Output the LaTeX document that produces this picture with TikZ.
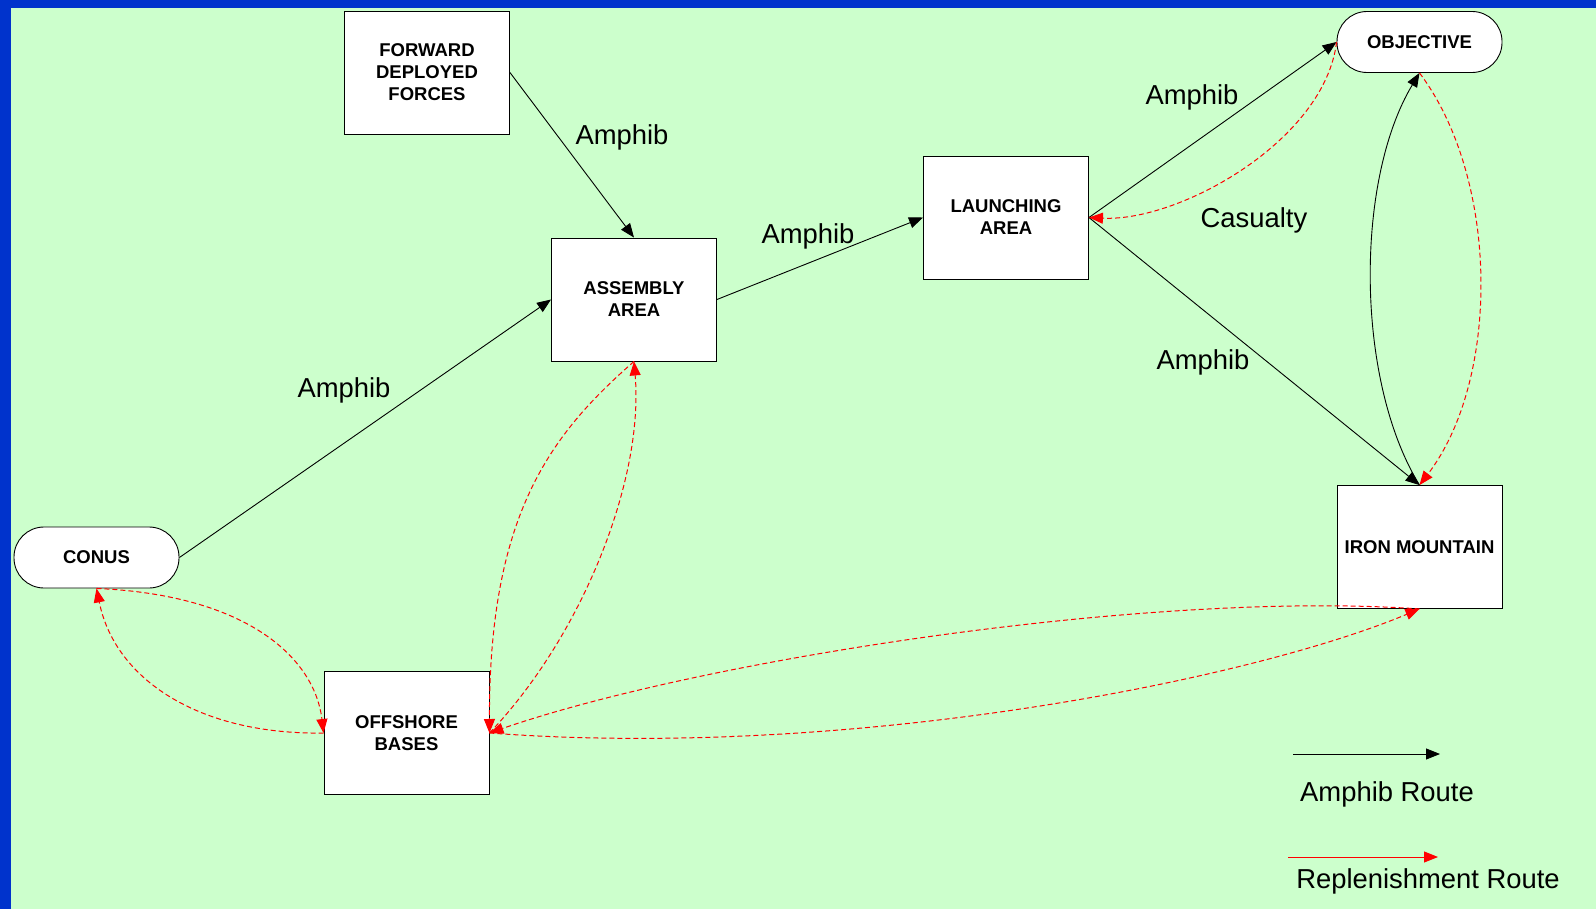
\documentclass[tikz,border=0pt]{standalone}
\usepackage{fontspec}
\setmainfont{Liberation Sans}
\usetikzlibrary{arrows.meta}
\definecolor{bgblue}{RGB}{0,51,204}
\definecolor{bggreen}{RGB}{204,255,204}
\begin{document}
\begin{tikzpicture}[x=1pt,y=-1pt,
  box/.style={draw=black, line width=0.9pt, fill=white, minimum width=165pt, minimum height=123pt, inner sep=0pt, align=center, font=\fontsize{18.5}{22}\selectfont\bfseries},
  pill/.style={box, minimum height=61pt, rounded corners=30pt},
  lbl/.style={anchor=base, inner sep=0pt, font=\fontsize{27.4}{32}\selectfont},
  amph/.style={draw=black, line width=0.9pt, -{Triangle[length=14pt,width=11pt]}},
  repl/.style={draw=red, line width=1pt, dash pattern=on 5pt off 3pt, -{Triangle[length=14pt,width=11pt]}},
  legr/.style={draw=red, line width=1pt, -{Triangle[length=14pt,width=11pt]}},
]
\useasboundingbox (0,0) rectangle (1596,909);
\fill[bgblue] (0,0) rectangle (1596,909);
\fill[bggreen] (11,8) rectangle (1596,909);

% nodes
\node[box] (fdf) at (427,72.5) {FORWARD\\DEPLOYED\\FORCES};
\node[box] (aa) at (634,299.5) {ASSEMBLY\\AREA};
\node[box] (la) at (1006,217.5) {LAUNCHING\\AREA};
\node[box] (ob) at (406.5,733) {OFFSHORE\\BASES};
\node[box] (im) at (1419.5,547) {IRON MOUNTAIN};
\node[pill] (obj) at (1419.5,42) {OBJECTIVE};
\node[pill] (conus) at (96.5,557.5) {CONUS};

% amphib routes
\draw[amph] (fdf.east) -- (aa.north);
\draw[amph] (conus.east) -- (aa.west);
\draw[amph] (aa.east) -- (la.west);
\draw[amph] (la.east) -- (obj.west);
\draw[amph] (la.east) -- (im.north);
\draw[amph] (im.north) .. controls (1355,380) and (1355,180) .. (obj.south);

% replenishment routes
\draw[repl] (obj.south) .. controls (1500,180) and (1500,380) .. (im.north);
\draw[repl] (obj.west) .. controls (1325,140) and (1180,222) .. (la.east);
\draw[repl] (conus.south) .. controls (250,595) and (315,660) .. (ob.west);
\draw[repl] (ob.west) .. controls (200,735) and (115,680) .. (conus.south);
\draw[repl] (aa.south) .. controls (550,435) and (489,515) .. (ob.east);
\draw[repl] (ob.east) .. controls (582,636) and (644,480) .. (aa.south);
\draw[repl] (im.south) .. controls (1150,590) and (700,660) .. (ob.east);
\draw[repl] (ob.east) .. controls (850,760) and (1250,680) .. (im.south);

% labels
\node[lbl] (t1) at (622,145) {Amphib};
\node[lbl] (t2) at (808,244) {Amphib};
\node[lbl] (t3) at (344,397) {Amphib};
\node[lbl] (t4) at (1192,105) {Amphib};
\node[lbl] (t5) at (1254,228) {Casualty};
\node[lbl] (t6) at (1203,370) {Amphib};

% legend
\coordinate (la1) at (1293,754);
\coordinate (la2) at (1440,754);
\coordinate (lr1) at (1288,857);
\coordinate (lr2) at (1438,857);
\draw[amph] (la1) -- (la2);
\draw[legr] (lr1) -- (lr2);
\node[lbl] (leg1) at (1387,801) {Amphib Route};
\node[lbl] (leg2) at (1428,888) {Replenishment Route};
\end{tikzpicture}
\end{document}
